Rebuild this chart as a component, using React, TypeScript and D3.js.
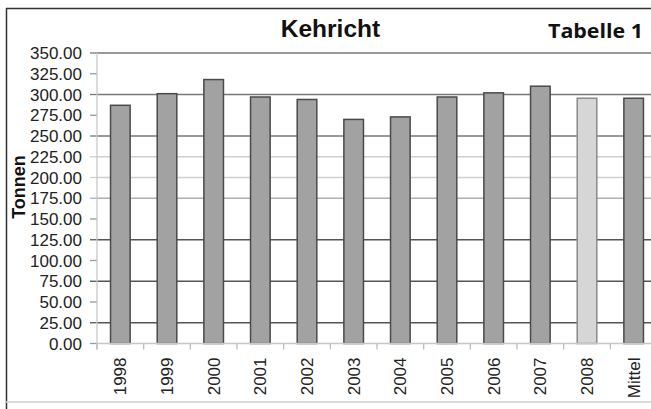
import * as d3 from "d3";
import React from "react";

// categories + values (Tonnen)
const years = ["1998", "1999", "2000", "2001", "2002", "2003", "2004", "2005", "2006", "2007", "2008", "Mittel"];
const tonnen = [287, 301, 318, 297, 294, 270, 273, 297, 302, 310, 295.5, 295.5];
const yTicks = [0, 25, 50, 75, 100, 125, 150, 175, 200, 225, 250, 275, 300, 325, 350];

// the scan lost some gridlines, others are darker
const gridColor: Record<number, string> = {
  350: "#777", 300: "#777", 250: "#777",
  225: "#d0d0d0", 200: "#d0d0d0", 175: "#b0b0b0",
  125: "#555", 75: "#555", 25: "#555",
};

export default function App() {
  const WIDTH = 651;
  const HEIGHT = 409;
  const margin = { left: 97, top: 53, bottom: 65.5 };
  const plotRight = 657;

  const x = d3.scaleBand<string>()
    .domain(years)
    .range([margin.left, plotRight])
    .paddingInner(0.58)
    .paddingOuter(0.29);

  const y = d3.scaleLinear()
    .domain([0, 350])
    .range([HEIGHT - margin.bottom, margin.top]);

  const step = x.step();
  const font = "'Liberation Sans', Arial, sans-serif";

  return (
    <svg width={WIDTH} height={HEIGHT} style={{ position: "absolute", left: 0, top: 0, background: "#fff" }}>
      {/* frame */}
      <line x1={6} x2={WIDTH} y1={8.5} y2={8.5} stroke="#333" strokeWidth={1.5} />
      <line x1={6.5} x2={6.5} y1={8} y2={HEIGHT} stroke="#333" strokeWidth={1.5} />
      <line x1={6} x2={WIDTH} y1={402} y2={402} stroke="#d0d0d0" strokeWidth={1.5} />

      {/* titles */}
      <text x={330.5} y={37} textAnchor="middle" fontFamily={font} fontWeight="bold" fontSize={24.5} fill="#111">
        Kehricht
      </text>
      <text x={548} y={38} fontFamily="'Open Sans', sans-serif" fontWeight="bold" fontSize={20}
        textLength={95} lengthAdjust="spacingAndGlyphs" fill="#111">
        Tabelle 1
      </text>

      {/* y axis label */}
      <text transform={`translate(25,187) rotate(-90)`} textAnchor="middle" fontFamily={font} fontWeight="bold" fontSize={18} fill="#111">
        Tonnen
      </text>

      {/* grid + y ticks */}
      <g className="y-axis">
        {yTicks.map((d) => {
          let yy = y(d);
          return (
            <g key={d}>
              {d > 0 && gridColor[d] && (
                <line x1={margin.left} x2={WIDTH} y1={yy} y2={yy} stroke={gridColor[d]} strokeWidth={1.3} />
              )}
              <line x1={90} x2={margin.left} y1={yy} y2={yy} stroke={gridColor[d] || "#999"} strokeWidth={1.3} />
              <text x={82} y={yy} dy="0.36em" textAnchor="end" fontFamily={font} fontSize={17} fill="#222">
                {d.toFixed(2)}
              </text>
            </g>
          );
        })}
        <line x1={margin.left} x2={margin.left} y1={margin.top} y2={y(0) + 6} stroke="#c8c8c8" strokeWidth={1.3} />
      </g>

      {/* bars */}
      <g>
        {years.map((c, i) => (
          <rect
            key={c}
            x={x(c)}
            y={y(tonnen[i])}
            width={x.bandwidth()}
            height={y(0) - y(tonnen[i])}
            fill={c === "2008" ? "#d6d6d6" : "#a2a2a2"}
            stroke={c === "2008" ? "#8a8a8a" : "#4a4a4a"}
            strokeWidth={1.5}
          />
        ))}
      </g>

      {/* x axis */}
      <g className="x-axis">
        <line x1={margin.left} x2={WIDTH} y1={y(0)} y2={y(0)} stroke="#c8c8c8" strokeWidth={1.3} />
        {years.map((c, i) => {
          let bx = margin.left + i * step;
          return <line key={c} x1={bx} x2={bx} y1={y(0)} y2={y(0) + 6} stroke="#bbb" strokeWidth={1.3} />;
        })}
        {years.map((c) => {
          let cx = (x(c) as number) + x.bandwidth() / 2;
          return (
            <text
              key={c}
              transform={`translate(${cx},${y(0) + 14}) rotate(-90)`}
              textAnchor="end"
              dy="0.36em"
              fontFamily={font}
              fontSize={17}
              fill="#222"
            >
              {c}
            </text>
          );
        })}
      </g>
    </svg>
  );
}
